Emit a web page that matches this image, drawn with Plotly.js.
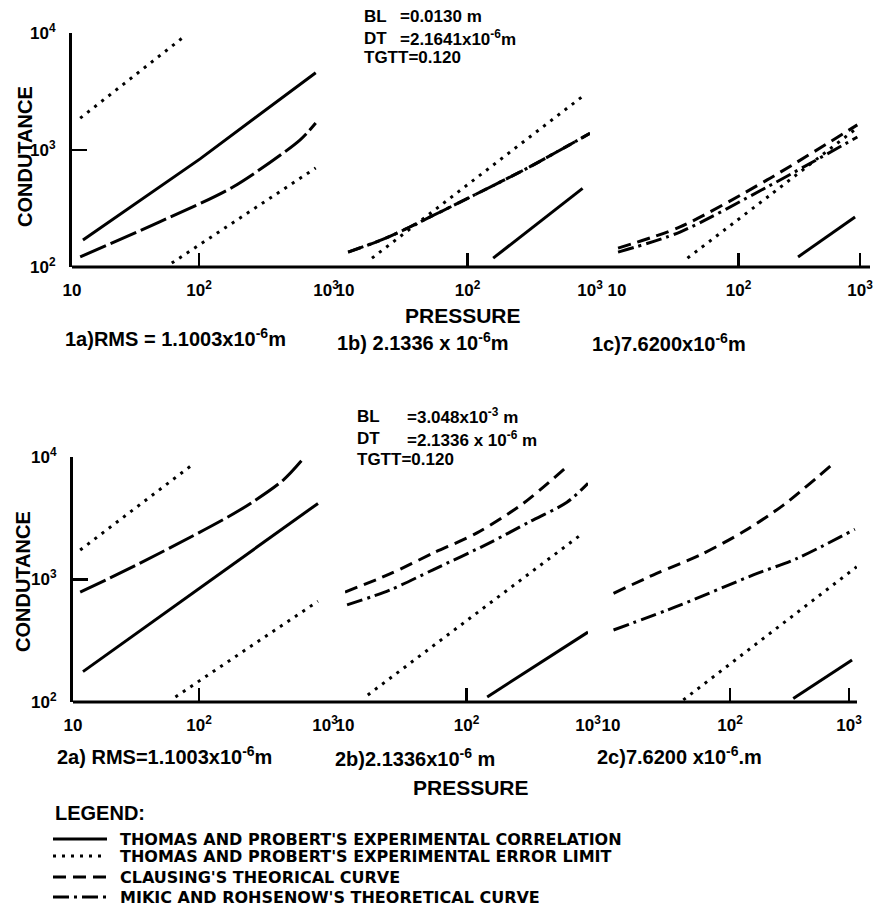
<!DOCTYPE html>
<html>
<head>
<meta charset="utf-8">
<script src="https://cdn.plot.ly/plotly-3.0.1.min.js"></script>
<style>
html,body{margin:0;padding:0;background:#fff;}
#chart{width:877px;height:907px;}
</style>
</head>
<body>
<div id="chart"></div>
<script>
// ---------------- DATA ----------------
// x = pressure, y = conductance (log-log)
const xTickVals = [10, 100, 1000];
const xTickText = ['10', '10<sup>2</sup>', '10<sup>3</sup>'];
const yTickVals = [100, 1000, 10000];
const yTickText = ['10<sup>2</sup>', '10<sup>3</sup>', '10<sup>4</sup>'];

// Panel 1a  RMS = 1.1003e-6 m
const p1a_solid_x = [12.2, 102, 830];
const p1a_solid_y = [170, 840, 4570];
const p1a_dotHi_x = [11.6, 78];
const p1a_dotHi_y = [1870, 9500];
const p1a_dotLo_x = [61, 830];
const p1a_dotLo_y = [108, 702];
const p1a_theory_x = [11.6, 49, 185, 623, 830];
const p1a_theory_y = [122, 243, 483, 1217, 1700];

// Panel 1b  RMS = 2.1336e-6 m (Clausing and Mikic curves coincide)
const p1b_theory_x = [10.6, 22, 50, 111, 324, 1000];
const p1b_theory_y = [134, 178, 269, 407, 720, 1390];
const p1b_dot_x = [16.6, 880];
const p1b_dot_y = [119, 2900];
const p1b_solid_x = [162, 870];
const p1b_solid_y = [119, 470];

// Panel 1c  RMS = 7.6200e-6 m
const p1c_clausing_x = [10.2, 33, 172, 950];
const p1c_clausing_y = [145, 220, 555, 1640];
const p1c_mikic_x = [10.2, 33, 172, 950];
const p1c_mikic_y = [134, 199, 483, 1290];
const p1c_dot_x = [38, 182, 950];
const p1c_dot_y = [119, 412, 1550];
const p1c_solid_x = [309, 910];
const p1c_solid_y = [122, 268];

// Panel 2a
const p2a_solid_x = [12, 93, 880];
const p2a_solid_y = [177, 795, 4180];
const p2a_dotHi_x = [11.4, 88];
const p2a_dotHi_y = [1740, 8600];
const p2a_dotLo_x = [65, 880];
const p2a_dotLo_y = [110, 665];
const p2a_theory_x = [11.4, 19.7, 49, 211, 464, 690];
const p2a_theory_y = [790, 1030, 1645, 3690, 6450, 10000];

// Panel 2b
const p2b_clausing_x = [10, 23.4, 53, 122, 292, 650];
const p2b_clausing_y = [790, 1110, 1640, 2400, 4170, 8100];
const p2b_mikic_x = [10.4, 23.4, 53, 155, 330, 671, 1000];
const p2b_mikic_y = [620, 820, 1200, 1990, 2960, 4270, 6100];
const p2b_dot_x = [15.4, 910];
const p2b_dot_y = [114, 2390];
const p2b_solid_x = [148, 1000];
const p2b_solid_y = [110, 372];

// Panel 2c
const p2c_clausing_x = [10.5, 24.2, 56, 129, 281, 714];
const p2c_clausing_y = [771, 1122, 1585, 2450, 4050, 8600];
const p2c_mikic_x = [10.5, 38, 157, 363, 1120];
const p2c_mikic_y = [387, 617, 1090, 1480, 2570];
const p2c_dot_x = [40.5, 1160];
const p2c_dot_y = [104, 1270];
const p2c_solid_x = [340, 1060];
const p2c_solid_y = [107, 220];

const legendLabels = [
  "THOMAS AND PROBERT'S EXPERIMENTAL CORRELATION",
  "THOMAS AND PROBERT'S EXPERIMENTAL ERROR LIMIT",
  "CLAUSING'S THEORICAL CURVE",
  "MIKIC AND ROHSENOW'S THEORETICAL CURVE"
];

// ---------------- STYLES / LAYOUT ----------------
const W = 877, H = 907;
const fx = px => px / W;
const fy = py => 1 - py / H;

const SOLID = {color:'#000', width:3};
const DOT = {color:'#000', width:3, dash:'3px,6px'};
const DASH = {color:'#000', width:3, dash:'13px,7px'};
const DASHDOT = {color:'#000', width:3, dash:'16px,5px,3px,5px'};
const LONGDASH = {color:'#000', width:3, dash:'28px,5px'};

function tr(x, y, ax, style, smooth) {
  const ln = Object.assign({}, style);
  if (smooth) { ln.shape = 'spline'; ln.smoothing = 0.8; }
  return {x:x, y:y, type:'scatter', mode:'lines', line:ln,
          xaxis: ax === 1 ? 'x' : 'x' + ax, yaxis: ax === 1 ? 'y' : 'y' + ax,
          hoverinfo:'skip', showlegend:false};
}

const traces = [
  tr(p1a_solid_x, p1a_solid_y, 1, SOLID),
  tr(p1a_dotHi_x, p1a_dotHi_y, 1, DOT),
  tr(p1a_dotLo_x, p1a_dotLo_y, 1, DOT),
  tr(p1a_theory_x, p1a_theory_y, 1, LONGDASH, true),

  tr(p1b_theory_x, p1b_theory_y, 2, DASH, true),
  tr(p1b_theory_x, p1b_theory_y, 2, DASHDOT, true),
  tr(p1b_dot_x, p1b_dot_y, 2, DOT),
  tr(p1b_solid_x, p1b_solid_y, 2, SOLID),

  tr(p1c_clausing_x, p1c_clausing_y, 3, DASH, true),
  tr(p1c_mikic_x, p1c_mikic_y, 3, DASHDOT, true),
  tr(p1c_dot_x, p1c_dot_y, 3, DOT, true),
  tr(p1c_solid_x, p1c_solid_y, 3, SOLID),

  tr(p2a_solid_x, p2a_solid_y, 4, SOLID),
  tr(p2a_dotHi_x, p2a_dotHi_y, 4, DOT),
  tr(p2a_dotLo_x, p2a_dotLo_y, 4, DOT),
  tr(p2a_theory_x, p2a_theory_y, 4, LONGDASH, true),

  tr(p2b_clausing_x, p2b_clausing_y, 5, DASH, true),
  tr(p2b_mikic_x, p2b_mikic_y, 5, DASHDOT, true),
  tr(p2b_dot_x, p2b_dot_y, 5, DOT),
  tr(p2b_solid_x, p2b_solid_y, 5, SOLID),

  tr(p2c_clausing_x, p2c_clausing_y, 6, DASH, true),
  tr(p2c_mikic_x, p2c_mikic_y, 6, DASHDOT, true),
  tr(p2c_dot_x, p2c_dot_y, 6, DOT),
  tr(p2c_solid_x, p2c_solid_y, 6, SOLID)
];

const FONT = 'Liberation Sans, Arial, sans-serif';
const tickFont = {family: FONT, size: 17, color: '#000', weight: 'bold'};

// panel geometry in pixels: [left, right, top, bottom, xRangeMax]
const panels = [
  [72, 326, 33, 267, 3],
  [345, 590, 33, 267, 3],
  [617, 870, 33, 267, 3.082],
  [73, 325, 457, 702, 3],
  [345, 588, 457, 702, 3],
  [611, 857, 457, 702, 3.067]
];

const layout = {
  width: W, height: H,
  margin: {l:0, r:0, t:0, b:0},
  paper_bgcolor: '#fff', plot_bgcolor: 'rgba(0,0,0,0)',
  showlegend: false,
  annotations: [], shapes: []
};

panels.forEach((p, i) => {
  const n = i + 1;
  const xk = n === 1 ? 'xaxis' : 'xaxis' + n;
  const yk = n === 1 ? 'yaxis' : 'yaxis' + n;
  layout[xk] = {
    type:'log', range:[1, p[4]], domain:[fx(p[0]), fx(p[1])],
    anchor: n === 1 ? 'y' : 'y' + n,
    showgrid:false, zeroline:false, showline:false,
    ticks:'inside', ticklen:14, tickwidth:2.5, tickcolor:'#000',
    tickvals:xTickVals, ticktext:xTickText, tickfont:tickFont,
    ticklabelstandoff: 11, fixedrange:true
  };
  const isLeft = (i === 0 || i === 3);
  if (isLeft) {
    layout[yk] = {
      type:'log', range:[2, 4], domain:[fy(p[3]), fy(p[2])],
      anchor: n === 1 ? 'x' : 'x' + n,
      showgrid:false, zeroline:false, showline:true, linewidth:3, linecolor:'#000',
      ticks:'inside', ticklen:15, tickwidth:2.5, tickcolor:'#000',
      tickvals:yTickVals, ticktext:yTickText, tickfont:tickFont,
      ticklabelstandoff: 10, fixedrange:true
    };
  } else {
    layout[yk] = {
      type:'log', range:[2, 4], domain:[fy(p[3]), fy(p[2])],
      anchor: 'x' + n, visible:false, fixedrange:true
    };
  }
});

// continuous baselines
layout.shapes.push({type:'line', xref:'paper', yref:'paper', x0:fx(72), x1:fx(870), y0:fy(267), y1:fy(267), line:{color:'#000', width:3}});
layout.shapes.push({type:'line', xref:'paper', yref:'paper', x0:fx(73), x1:fx(857), y0:fy(702), y1:fy(702), line:{color:'#000', width:3}});

function ann(text, px, py, size, opts) {
  const a = Object.assign({
    text:text, x:fx(px), y:fy(py), xref:'paper', yref:'paper',
    xanchor:'left', yanchor:'middle', showarrow:false,
    font:{family:FONT, size:size, color:'#000', weight:'bold'}
  }, opts || {});
  layout.annotations.push(a);
}

ann('CONDUTANCE', 25, 157, 20, {xanchor:'center', textangle:-90});
ann('CONDUTANCE', 23, 582, 20, {xanchor:'center', textangle:-90});
ann('PRESSURE', 463, 315, 21, {xanchor:'center'});
ann('PRESSURE', 471, 787, 21, {xanchor:'center'});

ann('1a)RMS = 1.1003x10<sup>-6</sup>m', 63, 338, 20);
ann('1b) 2.1336 x 10<sup>-6</sup>m', 335, 341, 20);
ann('1c)7.6200x10<sup>-6</sup>m', 590, 342, 20);
ann('2a) RMS=1.1003x10<sup>-6</sup>m', 55, 755, 20);
ann('2b)2.1336x10<sup>-6</sup> m', 333, 757, 20);
ann('2c)7.6200 x10<sup>-6</sup>.m', 595, 755, 20);

ann('BL', 362, 16, 17);
ann('=0.0130 m', 398, 16, 17);
ann('DT', 362, 38, 17);
ann('=2.1641x10<sup>-6</sup>m', 398, 38, 17);
ann('TGTT=0.120', 362, 58, 17);

ann('BL', 355, 416, 17);
ann('=3.048x10<sup>-3</sup> m', 405, 416, 17);
ann('DT', 355, 439, 17);
ann('=2.1336 x 10<sup>-6</sup> m', 405, 439, 17);
ann('TGTT=0.120', 355, 459, 17);

ann('LEGEND:', 53, 813, 20);
const legYs = [839, 856, 877, 897];
const legStyles = [SOLID, DOT, DASH, DASHDOT];
legendLabels.forEach((t, i) => {
  ann(t, 118, legYs[i], 16, {font:{family:'DejaVu Sans, sans-serif', size:16, color:'#000', weight:'bold'}});
  layout.shapes.push({type:'line', xref:'paper', yref:'paper', x0:fx(53), x1:fx(107),
    y0:fy(legYs[i]), y1:fy(legYs[i]), line:Object.assign({}, legStyles[i])});
});

Plotly.newPlot('chart', traces, layout, {staticPlot:true, displayModeBar:false});
</script>
</body>
</html>
